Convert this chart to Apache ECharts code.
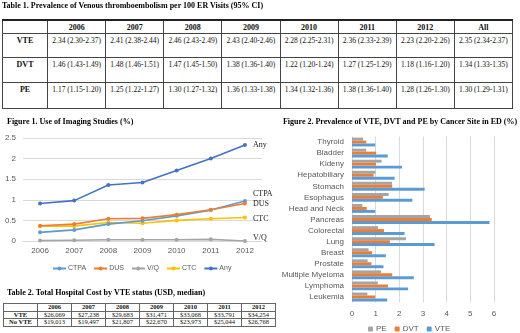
<!DOCTYPE html>
<html>
<head>
<meta charset="utf-8">
<script src="https://cdn.jsdelivr.net/npm/echarts@6/dist/echarts.min.js"></script>
<style>
html, body { margin: 0; padding: 0; background: #fff; }
#main { position: absolute; left: 0; top: 0; width: 520px; height: 333px; }
.cap { position: absolute; font-family: 'Liberation Serif', 'Times New Roman', serif; font-weight: bold; font-size: 8px; color: #000; white-space: nowrap; z-index: 2; }
table { position: absolute; border-collapse: collapse; font-family: 'Liberation Serif', 'Times New Roman', serif; color: #111; z-index: 2; background: #fff; table-layout: fixed; }
td, th { border: 1px solid #444; padding: 0; text-align: center; white-space: nowrap; }
#t1 { left: 2px; top: 19px; width: 511px; border: 1.5px solid #333; border-top: 2px solid #222; font-size: 7.5px; }
#t1 th { font-size: 8px; height: 12px; }
#t1 td { vertical-align: top; padding-top: 2px; }
#t1 td.rl { font-weight: bold; font-size: 8px; }
#t2 { left: 3px; top: 303px; width: 271px; font-size: 6.5px; border: 1px solid #444; }
#t2 td, #t2 th { height: 6.7px; line-height: 6.7px; border-color: #666; }
#t2 th, #t2 td.rl { font-weight: bold; }
</style>
</head>
<body>
<div id="main"></div>
<div class="cap" style="left:2px; top:1px;">Table 1. Prevalence of Venous thromboembolism per 100 ER Visits (95% CI)</div>
<table id="t1"></table>
<div class="cap" style="left:7px; top:288px;">Table 2. Total Hospital Cost by VTE status (USD, median)</div>
<table id="t2"></table>
<script>
// Table 1: prevalence per 100 ER visits
var t1Cols = ['2006', '2007', '2008', '2009', '2010', '2011', '2012', 'All'];
var t1Vte = ['2.34 (2.30-2.37)', '2.41 (2.38-2.44)', '2.46 (2.43-2.49)', '2.43 (2.40-2.46)', '2.28 (2.25-2.31)', '2.36 (2.33-2.39)', '2.23 (2.20-2.26)', '2.35 (2.34-2.37)'];
var t1Dvt = ['1.46 (1.43-1.49)', '1.48 (1.46-1.51)', '1.47 (1.45-1.50)', '1.38 (1.36-1.40)', '1.22 (1.20-1.24)', '1.27 (1.25-1.29)', '1.18 (1.16-1.20)', '1.34 (1.33-1.35)'];
var t1Pe = ['1.17 (1.15-1.20)', '1.25 (1.22-1.27)', '1.30 (1.27-1.32)', '1.36 (1.33-1.38)', '1.34 (1.32-1.36)', '1.38 (1.36-1.40)', '1.28 (1.26-1.30)', '1.30 (1.29-1.31)'];

// Table 2: hospital cost
var t2Cols = ['2006', '2007', '2008', '2009', '2010', '2011', '2012'];
var t2Vte = ['$26,069', '$27,238', '$29,683', '$31,471', '$33,068', '$33,791', '$34,254'];
var t2NoVte = ['$19,013', '$19,497', '$21,807', '$22,670', '$23,973', '$25,044', '$26,768'];

// Figure 1: imaging use (%)
var years = ['2006', '2007', '2008', '2009', '2010', '2011', '2012'];
var ctpa = [0.21, 0.27, 0.41, 0.49, 0.61, 0.75, 0.97];
var dus = [0.37, 0.41, 0.54, 0.55, 0.64, 0.76, 0.91];
var vq = [0.01, 0.02, 0.03, 0.03, 0.03, 0.04, 0.00];
var ctc = [0.36, 0.36, 0.45, 0.43, 0.50, 0.54, 0.57];
var anyImg = [0.91, 0.98, 1.36, 1.42, 1.71, 2.00, 2.33];

// Figure 2: prevalence by cancer site (%)
var sites = ['Thyroid', 'Bladder', 'Kideny', 'Hepatobiliary', 'Stomach', 'Esophagus', 'Head and Neck', 'Pancreas', 'Colorectal', 'Lung', 'Breast', 'Prostate', 'Multiple Myeloma', 'Lymphoma', 'Leukemia'];
var pe = [0.47, 0.60, 1.25, 0.99, 1.69, 1.55, 0.44, 3.30, 1.10, 2.28, 0.70, 0.66, 1.23, 1.09, 0.65];
var dvt = [0.60, 1.02, 1.01, 0.91, 1.70, 1.30, 0.62, 3.37, 1.35, 1.60, 0.85, 0.82, 1.70, 1.52, 0.98];
var vte = [0.98, 1.51, 2.11, 1.80, 3.07, 2.55, 0.98, 5.81, 2.22, 3.49, 1.43, 1.33, 2.61, 2.37, 1.49];

function buildTable(id, cols, rows, widths, heights) {
  var t = document.getElementById(id);
  var cg = '<colgroup>' + widths.map(function (w) { return '<col style="width:' + w + 'px">'; }).join('') + '</colgroup>';
  var html = cg + '<tr><th></th>' + cols.map(function (c) { return '<th>' + c + '</th>'; }).join('') + '</tr>';
  rows.forEach(function (r, i) {
    html += '<tr style="height:' + heights[i] + 'px"><td class="rl">' + r[0] + '</td>' +
      r[1].map(function (v) { return '<td>' + v + '</td>'; }).join('') + '</tr>';
  });
  t.innerHTML = html;
}
buildTable('t1', t1Cols, [['VTE', t1Vte], ['DVT', t1Dvt], ['PE', t1Pe]],
  [45, 58, 58, 58, 58, 58, 58, 58, 58], [24, 25, 26]);
buildTable('t2', t2Cols, [['VTE', t2Vte], ['No VTE', t2NoVte]],
  [34, 34, 34, 34, 34, 34, 34, 34], [7, 7]);

var chart = echarts.init(document.getElementById('main'));
var serif = "'Liberation Serif', 'Times New Roman', serif";
var sans = "'Liberation Sans', Arial, sans-serif";
var grey = '#595959';

function lineSeries(name, data, color, dy, z) {
  return {
    name: name, type: 'line', data: data, xAxisIndex: 0, yAxisIndex: 0,
    symbol: 'circle', symbolSize: 4, z: z,
    itemStyle: { color: color },
    lineStyle: { color: color, width: 1.6 },
    endLabel: { show: true, formatter: '{a}', color: '#222', fontFamily: serif, fontSize: 8, distance: 8, offset: [0, dy] }
  };
}
function barSeries(name, data, color) {
  return {
    name: name, type: 'bar', data: data, xAxisIndex: 1, yAxisIndex: 1,
    barGap: '0%', barCategoryGap: '20%',
    itemStyle: { color: color }
  };
}

var option = {
  animation: false,
  title: [
    { text: 'Figure 1. Use of Imaging Studies (%)', left: 7, top: 118, padding: 0,
      textStyle: { fontFamily: serif, fontSize: 8, fontWeight: 'bold', color: '#000' } },
    { text: 'Figure 2. Prevalence of VTE, DVT and PE by Cancer Site in ED (%)', left: 400, textAlign: 'center', top: 118, padding: 0,
      textStyle: { fontFamily: serif, fontSize: 8, fontWeight: 'bold', color: '#000' } }
  ],
  legend: [
    { data: ['CTPA', 'DUS', 'V/Q', 'CTC', 'Any'], left: 52, top: 265, padding: 0, itemWidth: 13, itemHeight: 5, itemGap: 7,
      textStyle: { fontFamily: sans, fontSize: 7, color: grey, padding: [0, 0, 0, -3] } },
    { data: ['PE', 'DVT', 'VTE'], left: 368, top: 325, padding: 0, itemWidth: 5, itemHeight: 5, itemGap: 8,
      textStyle: { fontFamily: sans, fontSize: 8, color: grey, padding: [0, 0, 0, -2] } }
  ],
  grid: [
    { left: 23, top: 138, width: 239, height: 103 },
    { left: 352, top: 136.5, width: 142, height: 166 }
  ],
  xAxis: [
    { gridIndex: 0, type: 'category', data: years, boundaryGap: true,
      axisLine: { lineStyle: { color: '#d9d9d9' } }, axisTick: { show: false },
      axisLabel: { color: grey, fontFamily: sans, fontSize: 8, margin: 6 } },
    { gridIndex: 1, type: 'value', min: 0, max: 6, interval: 1,
      axisLine: { show: false }, axisTick: { show: false },
      splitLine: { lineStyle: { color: '#d9d9d9' } },
      axisLabel: { color: grey, fontFamily: sans, fontSize: 8, margin: 7 } }
  ],
  yAxis: [
    { gridIndex: 0, type: 'value', min: 0, max: 2.5, interval: 0.5,
      axisLine: { show: false }, axisTick: { show: false },
      splitLine: { lineStyle: { color: '#d9d9d9' } },
      axisLabel: { color: grey, fontFamily: sans, fontSize: 8, margin: 7 } },
    { gridIndex: 1, type: 'category', data: sites, inverse: true,
      axisLine: { show: false }, axisTick: { show: false },
      axisLabel: { color: grey, fontFamily: sans, fontSize: 8, margin: 8 } }
  ],
  series: [
    lineSeries('CTPA', ctpa, '#5B9BD5', -7, 3),
    lineSeries('DUS', dus, '#ED7D31', 0, 3),
    lineSeries('V/Q', vq, '#A5A5A5', -3, 2),
    lineSeries('CTC', ctc, '#FFC000', 1, 2),
    lineSeries('Any', anyImg, '#4472C4', 0, 4),
    barSeries('PE', pe, '#A5A5A5'),
    barSeries('DVT', dvt, '#ED7D31'),
    barSeries('VTE', vte, '#5B9BD5')
  ]
};
chart.setOption(option);
</script>
</body>
</html>
